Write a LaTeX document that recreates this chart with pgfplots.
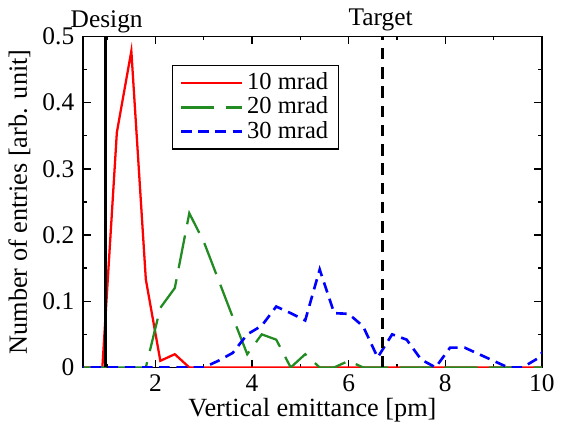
\documentclass[border=0pt]{standalone}
\usepackage{fontspec}
\setmainfont{Liberation Serif}
\usepackage{pgfplots}
\pgfplotsset{compat=1.18}
\definecolor{fgreen}{RGB}{34,139,34}
\begin{document}
\fontsize{14.5}{17}\selectfont
\begin{tikzpicture}
\begin{axis}[
    scale only axis,
    width=262pt, height=189pt,
    xmin=0.5, xmax=10, ymin=0, ymax=0.5,
    xtick={2,4,6,8,10},
    minor xtick={1,3,5,7,9},
    ytick={0,0.1,0.2,0.3,0.4,0.5},
    yticklabels={0,0.1,0.2,0.3,0.4,0.5},
    minor ytick={0.05,0.15,0.25,0.35,0.45},
    tick align=inside,
    major tick length=4.5pt, minor tick length=2.2pt,
    tick style={black, line width=0.8pt},
    axis line style={line width=0.9pt},
    xlabel={Vertical emittance [pm]},
    ylabel={Number of entries [arb. unit]},
    xlabel style={yshift=6pt},
    ylabel style={yshift=-3pt},
    tick label style={font=\rmfamily\fontsize{14.5}{17}\selectfont},
    xticklabel style={yshift=1pt},
    label style={font=\rmfamily\fontsize{15}{17}\selectfont},
    /pgf/number format/assume math mode=true,
    clip mode=individual,
    legend style={at={(0.194,0.914)}, anchor=north west, draw=black,
        line width=0.8pt, font=\rmfamily\fontsize{14}{14.5}\selectfont,
        row sep=-2pt, inner xsep=4pt, inner ysep=2pt},
    legend cell align=left,
    legend image code/.code={\draw[#1] plot coordinates {(0pt,0pt) (35pt,0pt)};},
]
% 10 mrad
\addplot[red, line width=1.3pt] coordinates {
(0.3,0) (0.6,0) (0.9,0) (1.2,0.355) (1.5,0.478) (1.8,0.133) (2.1,0.01)
(2.4,0.02) (2.7,0) (3.0,0) (3.3,0) (3.6,0) (3.9,0) (4.2,0) (4.5,0) (4.8,0)
(5.1,0) (5.4,0) (5.7,0) (6.0,0) (6.3,0) (6.6,0) (6.9,0) (7.2,0) (7.5,0)
(7.8,0) (8.1,0) (8.4,0) (8.7,0) (9.0,0) (9.3,0) (9.6,0) (9.9,0) (10.2,0)
};
\addlegendentry{10 mrad}
% 20 mrad
\addplot[fgreen, line width=1.3pt, dash pattern=on 19pt off 6.5pt] coordinates {
(0.3,0) (0.6,0) (0.9,0) (1.2,0) (1.5,0) (1.8,0) (2.1,0.09) (2.4,0.12)
(2.7,0.233) (3.0,0.19) (3.3,0.133) (3.6,0.076) (3.9,0.02) (4.2,0.05)
(4.5,0.042) (4.8,0) (5.1,0.02) (5.4,0) (5.7,0) (6.0,0.01) (6.3,0) (6.6,0)
(6.9,0) (7.2,0) (7.5,0) (7.8,0) (8.1,0) (8.4,0) (8.7,0) (9.0,0) (9.3,0)
(9.6,0) (9.9,0) (10.2,0)
};
\addlegendentry{20 mrad}
% 30 mrad
\addplot[blue, line width=1.5pt, dash pattern=on 6pt off 3.8pt] coordinates {
(0.3,0) (0.6,0) (0.9,0) (1.2,0) (1.5,0) (1.8,0) (2.1,0) (2.4,0) (2.7,0)
(3.0,0) (3.3,0.01) (3.6,0.022) (3.9,0.05) (4.2,0.063) (4.5,0.092)
(4.8,0.082) (5.1,0.071) (5.4,0.148) (5.7,0.082) (6.0,0.081) (6.3,0.062)
(6.6,0.015) (6.9,0.05) (7.2,0.042) (7.5,0.012) (7.8,0) (8.1,0.03)
(8.4,0.03) (8.7,0.02) (9.0,0.01) (9.3,0) (9.6,0) (9.9,0.013) (10.2,0.04)
};
\addlegendentry{30 mrad}
% design and target
\addplot[black, line width=1.7pt, forget plot] coordinates {(0.96,0) (0.96,0.5)};
\addplot[black, line width=1.7pt, dash pattern=on 6.5pt off 4.5pt, forget plot]
    coordinates {(6.7,0) (6.7,0.5)};
\end{axis}
\node[anchor=base, font=\rmfamily\fontsize{14.5}{17}\selectfont] at ({262pt*(0.99-0.5)/9.5},189pt) [yshift=5pt] {Design};
\node[anchor=base, font=\rmfamily\fontsize{14.5}{17}\selectfont] at ({262pt*(6.66-0.5)/9.5},189pt) [yshift=6.5pt] {Target};
\end{tikzpicture}
\end{document}
